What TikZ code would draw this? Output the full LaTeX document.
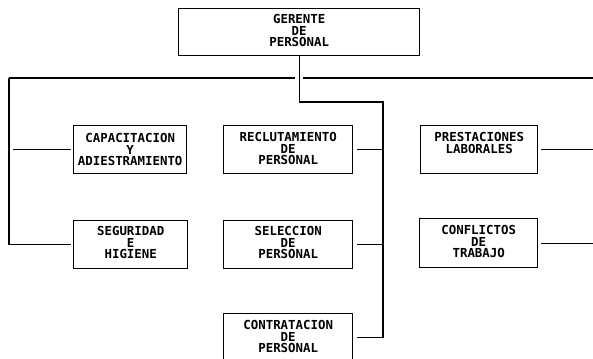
\documentclass[tikz,border=0pt]{standalone}
\usepackage{fontspec}
\newfontfamily\orgfont{DejaVu Sans Mono}
\tikzset{
  unitbox/.style={draw, line width=1.4pt, inner sep=0pt, anchor=north west},
  lbl/.style={anchor=north, inner sep=0pt, align=center,
    font=\orgfont\bfseries\fontsize{12.4}{11.6}\selectfont},
  wire/.style={line width=1.4pt}
}
\begin{document}
\begin{tikzpicture}[x=1pt, y=-1pt]
\useasboundingbox (0,0) rectangle (593,358);

% boxes
\node[unitbox, minimum width=241pt, minimum height=47pt] (ger) at (178,8) {};
\node[unitbox, minimum width=113pt, minimum height=48pt] (cap) at (73,125) {};
\node[unitbox, minimum width=129pt, minimum height=48pt] (rec) at (223,125) {};
\node[unitbox, minimum width=117pt, minimum height=48pt] (pre) at (420,125) {};
\node[unitbox, minimum width=114pt, minimum height=48pt] (seg) at (73,220) {};
\node[unitbox, minimum width=129pt, minimum height=48pt] (sel) at (223,220) {};
\node[unitbox, minimum width=118pt, minimum height=49pt] (con) at (419,218) {};
\node[unitbox, minimum width=129pt, minimum height=48pt] (ctr) at (223,313) {};

% labels
\node[lbl] (ger-t) at ([yshift=-6pt]ger.north) {GERENTE\\DE\\PERSONAL};
\node[lbl] (cap-t) at ([yshift=-8pt]cap.north) {CAPACITACION\\Y\\ADIESTRAMIENTO};
\node[lbl] (rec-t) at ([yshift=-7pt]rec.north) {RECLUTAMIENTO\\DE\\PERSONAL};
\node[lbl] (pre-t) at ([yshift=-7pt]pre.north) {PRESTACIONES\\LABORALES};
\node[lbl] (seg-t) at ([yshift=-6pt]seg.north) {SEGURIDAD\\E\\HIGIENE};
\node[lbl] (sel-t) at ([yshift=-6pt]sel.north) {SELECCION\\DE\\PERSONAL};
\node[lbl] (con-t) at ([yshift=-7pt]con.north) {CONFLICTOS\\DE\\TRABAJO};
\node[lbl] (ctr-t) at ([yshift=-7pt]ctr.north) {CONTRATACION\\DE\\PERSONAL};

% bus points
\coordinate (lt) at (9,78);
\coordinate (rt) at (593,78);
\coordinate (mt) at (383,102);

% main horizontal bus, broken where the manager's line crosses it
\draw[wire] (lt) -- ([xshift=-4pt]lt -| ger.south);
\draw[wire] ([xshift=4pt]lt -| ger.south) -- (rt);

% left branch
\draw[wire] (lt) -- (lt |- seg.west) -- ([xshift=-2pt]seg.west);
\draw[wire] ([xshift=4pt]lt |- cap.west) -- ([xshift=-2pt]cap.west);

% middle branch from the manager
\draw[wire] (ger.south) |- (mt) |- ([xshift=4pt]ctr.east);
\draw[wire] ([xshift=4pt]rec.east) -- (rec.east -| mt);
\draw[wire] ([xshift=4pt]sel.east) -- (sel.east -| mt);

% right branch
\draw[wire] ([xshift=3pt]pre.east) -- (pre.east -| rt);
\draw[wire] ([xshift=3pt]con.east) -- (con.east -| rt);
\end{tikzpicture}
\end{document}
